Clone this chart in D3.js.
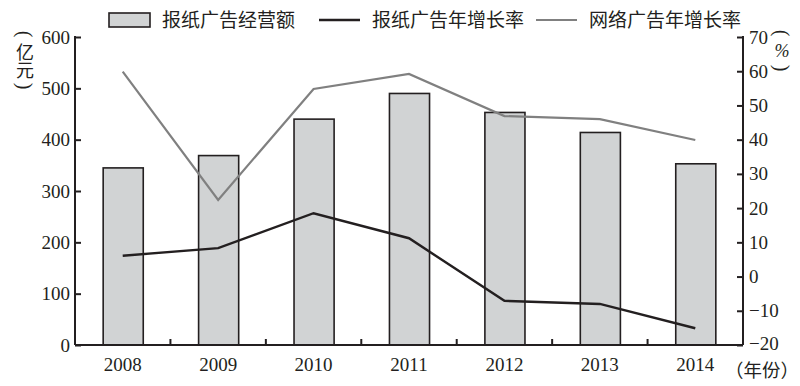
<!DOCTYPE html>
<html><head><meta charset="utf-8">
<script src="https://cdn.jsdelivr.net/npm/d3@7"></script>
<style>body{margin:0;background:#fff}svg{display:block}</style>
</head><body>
<svg id="c" width="800" height="386"></svg>
<script>
const years = ["2008","2009","2010","2011","2012","2013","2014"];
const revenue = [345, 369, 440, 490, 453, 414, 353];
const paperGrowth = [6.1, 8.3, 18.5, 11.2, -7.1, -8.0, -15.1];
const webGrowth = [59.9, 22.4, 54.8, 59.2, 46.9, 46.0, 39.9];
const leftTicks = [0,100,200,300,400,500,600];
const rightTicks = [-20,-10,0,10,20,30,40,50,60,70];
const legendLabels = ["报纸广告经营额","报纸广告年增长率","网络广告年增长率"];

const svg = d3.select("#c");
const L = 75, R = 743, T = 37, B = 345;
const serif = "'Liberation Serif','DejaVu Serif',serif";
const cjk = "'Noto Sans CJK SC',sans-serif";
const ink = "#231f20";

const x = d3.scaleBand().domain(years).range([L, R]).padding(0);
const yL = d3.scaleLinear().domain([0,600]).range([B, T]);
const yR = d3.scaleLinear().domain([-20,70]).range([B, T]);
const barW = x.bandwidth()*0.42;

// bars
svg.append("g").selectAll("rect").data(years).join("rect")
  .attr("x", d => x(d) + x.bandwidth()/2 - barW/2 + 0.5)
  .attr("y", (d,i) => yL(revenue[i]))
  .attr("width", barW)
  .attr("height", (d,i) => B - yL(revenue[i]))
  .attr("fill", "#d1d3d4").attr("stroke", ink).attr("stroke-width", 1.6);

const line = d3.line().x((d,i) => x(years[i]) + x.bandwidth()/2).y(d => yR(d));
svg.append("path").datum(webGrowth).attr("d", line)
  .attr("fill","none").attr("stroke","#808080").attr("stroke-width",2.2);
svg.append("path").datum(paperGrowth).attr("d", line)
  .attr("fill","none").attr("stroke",ink).attr("stroke-width",2.4);

// axes
function style(g){
  g.selectAll("path,line").attr("stroke", ink).attr("stroke-width", 2);
  g.selectAll("text").attr("font-family", serif).attr("font-size", 19).attr("fill", ink);
}
const gl = svg.append("g").attr("transform",`translate(${L},0)`)
  .call(d3.axisLeft(yL).tickValues(leftTicks).tickSizeInner(-6).tickSizeOuter(0).tickPadding(5));
style(gl);
gl.select(".domain").attr("d", `M0,${T-1}V${B}`);
const gr = svg.append("g").attr("transform",`translate(${R},0)`)
  .call(d3.axisRight(yR).tickValues(rightTicks).tickSizeInner(-6).tickSizeOuter(0).tickPadding(6)
    .tickFormat(d => d < 0 ? "\u2212" + Math.abs(d) : d));
style(gr);
gr.select(".domain").attr("d", `M0,${T-1}V${B}`);
gr.selectAll(".tick").filter(d => d === -20).select("text").attr("dy","0.22em");

const gb = svg.append("g").attr("transform",`translate(0,${B})`)
  .call(d3.axisBottom(x).tickSize(0).tickPadding(12));
style(gb);
gb.select(".domain").attr("d", `M${L},0H${R}`);
gb.selectAll(".tick text").attr("dy","0.75em");
// separator ticks between categories
svg.append("g").selectAll("line").data(years.slice(1)).join("line")
  .attr("x1", d => x(d)).attr("x2", d => x(d)).attr("y1", B).attr("y2", B-6)
  .attr("stroke", ink).attr("stroke-width", 2);

// axis titles (vertical)
function vparen(cx, cy, ch){
  svg.append("text").attr("transform", `translate(${cx},${cy}) rotate(90)`)
    .attr("text-anchor","middle").attr("dominant-baseline","central")
    .attr("font-family", serif).attr("font-size", 20).attr("fill", ink).text(ch);
}
vparen(25, 34, "(");
svg.append("text").attr("x",25).attr("y",43)
  .attr("font-family", cjk).attr("font-size", 18).attr("fill", ink)
  .style("writing-mode","vertical-rl").text("亿元");
vparen(25, 86, ")");

vparen(782, 33, "(");
svg.append("text").attr("x",782).attr("y",51).attr("text-anchor","middle").attr("dominant-baseline","central")
  .attr("font-family", serif).attr("font-size", 18).attr("font-style","italic").attr("fill", ink).text("%");
vparen(782, 68, ")");

svg.append("text").attr("x", 725).attr("y", 377)
  .attr("font-family", cjk).attr("font-size", 18.5).attr("fill", ink).text("（年份）");

// legend
const lg = svg.append("g");
lg.append("rect").attr("x",109).attr("y",13).attr("width",41).attr("height",14)
  .attr("fill","#d1d3d4").attr("stroke",ink).attr("stroke-width",1.6);
lg.append("text").attr("x",162).attr("y",27).text(legendLabels[0]);
lg.append("line").attr("x1",319).attr("x2",360).attr("y1",20).attr("y2",20).attr("stroke",ink).attr("stroke-width",2.4);
lg.append("text").attr("x",372).attr("y",27).text(legendLabels[1]);
lg.append("line").attr("x1",536).attr("x2",577).attr("y1",20).attr("y2",20).attr("stroke","#808080").attr("stroke-width",2.2);
lg.append("text").attr("x",589).attr("y",27).text(legendLabels[2]);
lg.selectAll("text").attr("font-family", cjk).attr("font-size", 19).attr("fill", ink);
</script>
</body></html>
